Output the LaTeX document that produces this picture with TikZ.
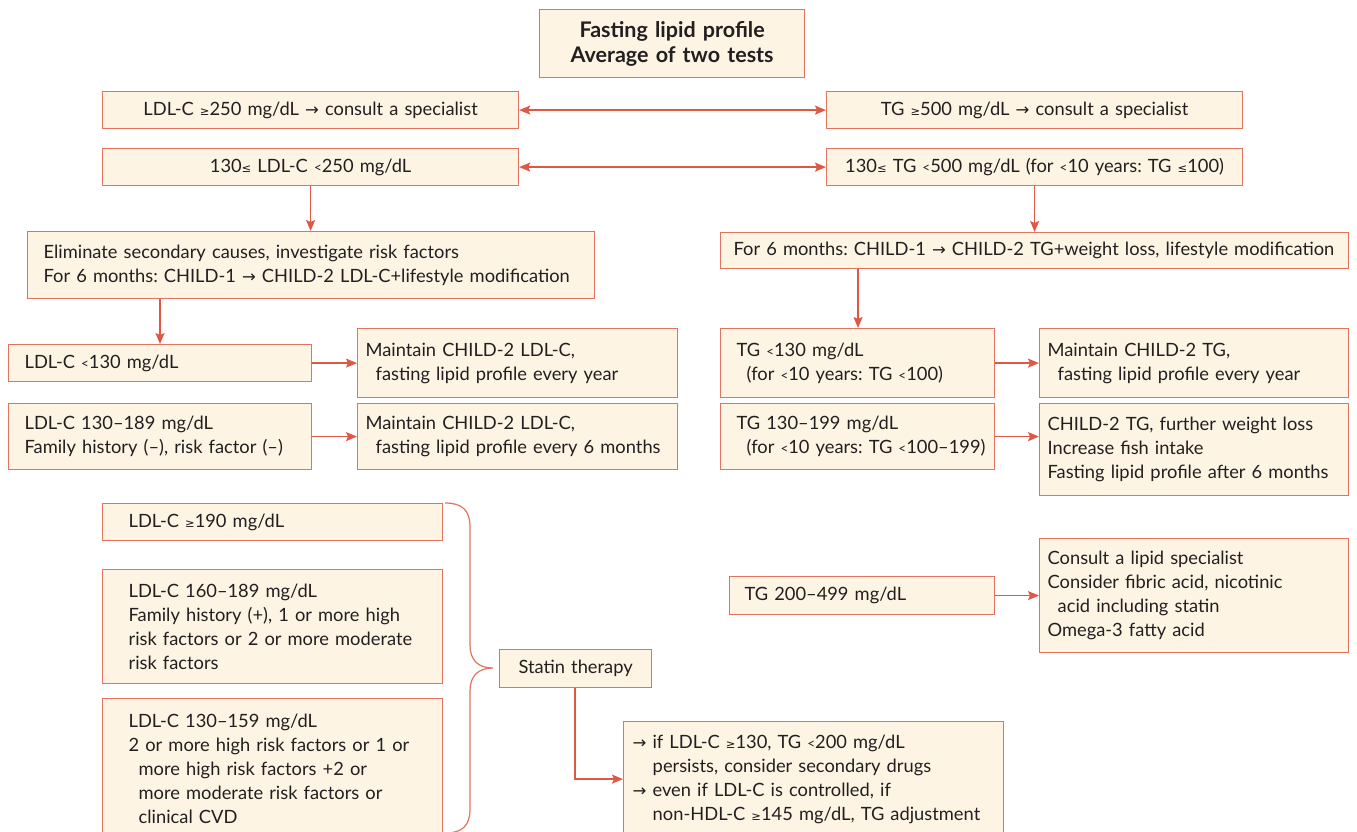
\documentclass[tikz,border=0pt]{standalone}
\usepackage{fontspec}
\setmainfont{Lato}
\newfontfamily\symf{DejaVu Sans}
\usetikzlibrary{arrows.meta,calc}
\definecolor{cream}{HTML}{FDF4E4}
\definecolor{bord}{HTML}{E2735E}
\definecolor{arrc}{HTML}{DF5846}
\definecolor{ink}{HTML}{231F20}
\newcommand\GE{{\symf\fontsize{11.5}{11}\selectfont ≥}}
\newcommand\LE{{\symf\fontsize{11.5}{11}\selectfont ≤}}
\newcommand\AR{{\symf\fontsize{16.5}{14}\selectfont →}}
\newcommand\LT{{\fontsize{13.5}{13}\selectfont <}}
\newcommand\ind{\hspace*{0.55em}}
\newcommand\tline[1]{\mbox{#1}}
\tikzset{
  box/.style={draw=bord, fill=cream, line width=1.2pt, rectangle, inner ysep=0pt,
    text=ink, font=\fontsize{18.3}{24}\selectfont, execute at begin node={\frenchspacing}},
  arr/.style={draw=arrc, line width=1.3pt, -{Stealth[length=11pt,width=9pt,inset=2pt]}},
  darr/.style={draw=arrc, line width=1.3pt, {Stealth[length=11pt,width=9pt,inset=2pt]}-{Stealth[length=11pt,width=9pt,inset=2pt]}},
  brc/.style={draw=bord, line width=1.2pt}
}
\newcommand\mybox[8]{%
  \pgfmathsetmacro\tw{#4-2*#6}%
  \node[box, anchor=north west, minimum width=#4pt, minimum height=#5pt,
    inner xsep=#6pt, text width=\tw pt, #7] (#1) at (#2,#3) {#8};}
\begin{document}
\begin{tikzpicture}[x=1pt,y=-1pt]
\useasboundingbox (0,0) rectangle (1357,831);
% title
\mybox{t}{539}{9}{265}{68}{6}{align=center, font=\fontsize{21.5}{25}\selectfont\bfseries}{Fasting lipid profile\\Average of two tests}
% level 1
\mybox{b1}{102}{91}{416}{37}{8}{align=center}{\tline{LDL-C \GE250 mg/dL \AR\ consult a specialist}}
\mybox{b2}{826}{91}{416}{37}{8}{align=center}{\tline{TG \GE500 mg/dL \AR\ consult a specialist}}
\mybox{b3}{102}{148}{416}{37}{8}{align=center}{\tline{130\LE\ LDL-C \LT250 mg/dL}}
\mybox{b4}{826}{148}{416}{37}{8}{align=center}{\tline{130\LE\ TG \LT500 mg/dL (for \LT10 years: TG \LE100)}}
\draw[darr] (b1.east) -- (b2.west);
\draw[darr] (b3.east) -- (b4.west);
% level 2
\mybox{b5}{27}{231}{567}{67}{16}{align=left}{\tline{Eliminate secondary causes, investigate risk factors}\\\tline{For 6 months: CHILD-1 \AR\ CHILD-2 LDL-C+lifestyle modification}}
\mybox{b6}{720}{232}{628}{36}{13}{align=left}{\tline{For 6 months: CHILD-1 \AR\ CHILD-2 TG+weight loss, lifestyle modification}}
\draw[arr] (b3.south) -- (b3.south |- b5.north);
\draw[arr] (b4.south) -- (b4.south |- b6.north);
% left results
\mybox{b7}{8}{344}{303}{37}{16}{align=left}{\tline{LDL-C \LT130 mg/dL}}
\mybox{b8}{357}{328}{320}{69}{8}{align=left}{\tline{Maintain CHILD-2 LDL-C,}\\\tline{\ind fasting lipid profile every year}}
\mybox{b9}{8}{403}{303}{66}{16}{align=left}{\tline{LDL-C 130–189 mg/dL}\\\tline{Family history (–), risk factor (–)}}
\mybox{b10}{357}{403}{320}{66}{8}{align=left}{\tline{Maintain CHILD-2 LDL-C,}\\\tline{\ind fasting lipid profile every 6 months}}
\draw[arr] ([xshift=133pt]b5.south west) -- ([xshift=133pt]b5.south west |- b7.north);
\draw[arr] (b7.east) -- (b7.east -| b8.west);
\draw[arr] (b9.east) -- (b9.east -| b10.west);
% right results
\mybox{b11}{720}{328}{274}{69}{16}{align=left}{\tline{TG \LT130 mg/dL}\\\tline{\ind(for \LT10 years: TG \LT100)}}
\mybox{b12}{1039}{328}{309}{69}{8}{align=left}{\tline{Maintain CHILD-2 TG,}\\\tline{\ind fasting lipid profile every year}}
\mybox{b13}{720}{403}{274}{66}{16}{align=left}{\tline{TG 130–199 mg/dL}\\\tline{\ind(for \LT10 years: TG \LT100–199)}}
\mybox{b14}{1039}{403}{309}{92}{8}{align=left}{\tline{CHILD-2 TG, further weight loss}\\\tline{Increase fish intake}\\\tline{Fasting lipid profile after 6 months}}
\draw[arr] ([xshift=138pt]b6.south west) -- ([xshift=138pt]b6.south west |- b11.north);
\draw[arr] (b11.east) -- (b11.east -| b12.west);
\draw[arr] (b13.east) -- (b13.east -| b14.west);
% TG 200-499
\mybox{b15}{729}{576}{265}{38}{15}{align=left}{\tline{TG 200–499 mg/dL}}
\mybox{b16}{1039}{538}{309}{114}{8}{align=left}{\tline{Consult a lipid specialist}\\\tline{Consider fibric acid, nicotinic}\\\tline{\ind acid including statin}\\\tline{Omega-3 fatty acid}}
\draw[arr] (b15.east) -- (b15.east -| b16.west);
% statin criteria
\mybox{b17}{102}{503}{340}{37}{26}{align=left}{\tline{LDL-C \GE190 mg/dL}}
\mybox{b18}{102}{569}{340}{114}{26}{align=left}{\tline{LDL-C 160–189 mg/dL}\\\tline{Family history (+), 1 or more high}\\\tline{risk factors or 2 or more moderate}\\\tline{risk factors}}
\mybox{b19}{102}{698}{340}{140}{26}{align=left}{\tline{LDL-C 130–159 mg/dL}\\\tline{2 or more high risk factors or 1 or}\\\tline{\ind more high risk factors +2 or}\\\tline{\ind more moderate risk factors or}\\\tline{\ind clinical CVD}}
\mybox{b20}{499}{649}{152}{38}{8}{align=center}{\tline{Statin therapy}}
\coordinate (tip) at (493,668);
\draw[brc] (445,503) .. controls (462,503) and (470,510) .. (470,527)
  -- (470,645) .. controls (470,660) and (478,668) .. (tip)
  .. controls (478,668) and (470,676) .. (470,691)
  -- (470,809) .. controls (470,826) and (462,833) .. (445,833);
\mybox{b21}{623}{721}{380}{115}{9}{align=left}{\tline{\AR\ if LDL-C \GE130, TG \LT200 mg/dL}\\\tline{\ind\ind persists, consider secondary drugs}\\\tline{\AR\ even if LDL-C is controlled, if}\\\tline{\ind\ind non-HDL-C \GE145 mg/dL, TG adjustment}}
\draw[arr] ([xshift=76pt]b20.south west) |- (b21.west);
\end{tikzpicture}
\end{document}
